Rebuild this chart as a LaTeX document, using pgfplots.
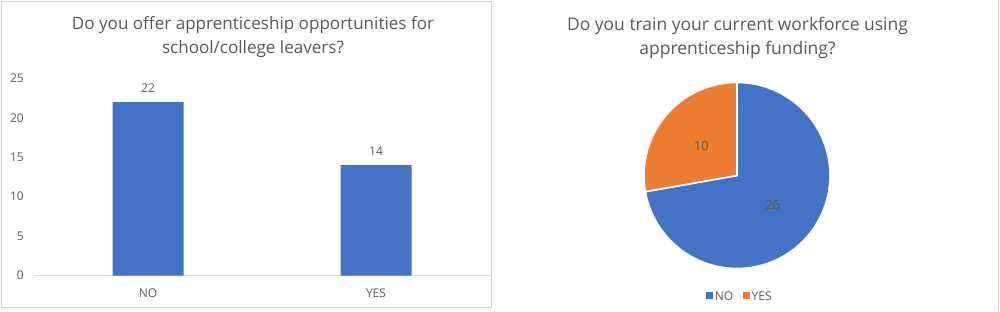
\documentclass[border=0pt]{standalone}
\usepackage{fontspec}
\setmainfont{Open Sans}
\usepackage{pgfplots}
\usepackage{pgfplotstable}
\pgfplotsset{compat=1.18}

\definecolor{barblue}{HTML}{4472C4}
\definecolor{pieorange}{HTML}{ED7D31}
\definecolor{txtgray}{HTML}{595959}
\definecolor{linegray}{HTML}{D9D9D9}
\definecolor{framegray}{HTML}{D0D0D0}

% survey answers
\pgfplotstableread{
x label value
0 NO  22
1 YES 14
}\offerdata
\pgfplotstableread{
label value
NO  26
YES 10
}\fundingdata

\begin{document}
\begin{tikzpicture}
\path (0pt,0pt) rectangle (750pt,232.5pt);
\draw[framegray, line width=0.75pt] (0.75pt,2.25pt) rectangle (368.25pt,231.75pt);
\draw[framegray, line width=0.75pt] (748.5pt,0pt) -- (748.5pt,232.5pt);

% titles
\node[font=\fontsize{12.8}{18}\selectfont, text=txtgray, align=center] at (189.75pt,204.75pt)
  {Do you offer apprenticeship opportunities for\\school/college leavers?};
\node[font=\fontsize{13.1}{18}\selectfont, text=txtgray, align=center] at (553.1pt,204.75pt)
  {Do you train your current workforce using\\apprenticeship funding?};

% bar chart
\begin{axis}[
  at={(25.5pt,26.25pt)}, anchor=south west,
  scale only axis, width=342pt, height=147.75pt,
  xmin=-0.5, xmax=1.5, ymin=0, ymax=25,
  ytick={0,5,...,25}, xtick={0,1}, xticklabels={NO,YES},
  major tick length=0pt,
  axis line style={draw=none},
  /pgf/number format/assume math mode=true,
  tick label style={font=\fontsize{9}{11}\selectfont, text=txtgray},
  yticklabel style={anchor=east, inner sep=0pt, xshift=-7.5pt},
  xticklabel style={anchor=north, inner sep=0pt, yshift=-9.5pt},
  ybar, bar width=53.25pt,
  nodes near coords,
  nodes near coords style={font=\fontsize{9}{11}\selectfont, text=txtgray,
    inner sep=0pt, anchor=south, yshift=7pt},
  clip=false,
]
\draw[linegray, line width=0.75pt] (axis cs:-0.5,0) -- (axis cs:1.5,0);
\addplot[fill=barblue, draw=none] table[x=x, y=value] {\offerdata};
\end{axis}

% pie chart
\pgfplotstablegetelem{0}{value}\of\fundingdata
\let\vNo\pgfplotsretval
\pgfplotstablegetelem{1}{value}\of\fundingdata
\let\vYes\pgfplotsretval
\pgfmathsetmacro\aNo{360*\vNo/(\vNo+\vYes)}
\pgfmathsetmacro\aYes{360*\vYes/(\vNo+\vYes)}
\begin{axis}[
  at={(552.75pt,101.25pt)}, anchor=center,
  x=0.75pt, y=0.75pt,
  xmin=-100, xmax=100, ymin=-100, ymax=100,
  hide axis, clip=false,
  legend columns=2,
  legend style={at={(0.515,-0.11)}, anchor=center, draw=none, fill=none,
    font=\fontsize{9}{11}\selectfont, text=txtgray, inner sep=0pt,
    cells={anchor=west},
    /tikz/every even column/.append style={column sep=5pt}},
]
\filldraw[fill=barblue, draw=white, line width=1.2pt]
  (axis cs:0,0) -- (axis cs:0,93) arc[start angle=90, end angle={90-\aNo}, radius=69.75pt] -- cycle;
\filldraw[fill=pieorange, draw=white, line width=1.2pt]
  (axis cs:0,0) -- (axis cs:0,93) arc[start angle=90, end angle={90+\aYes}, radius=69.75pt] -- cycle;
\node[font=\fontsize{9.5}{11}\selectfont, text=txtgray]
  at (axis cs:{46.5*cos(90-\aNo/2)},{46.5*sin(90-\aNo/2)}) {\vNo};
\node[font=\fontsize{9.5}{11}\selectfont, text=txtgray]
  at (axis cs:{46.5*cos(90+\aYes/2)},{46.5*sin(90+\aYes/2)}) {\vYes};
\addlegendimage{legend image code/.code={\fill[barblue] (0pt,-0.5pt) rectangle (4.5pt,4pt);}}
\addlegendentry{NO}
\addlegendimage{legend image code/.code={\fill[pieorange] (0pt,-0.5pt) rectangle (4.5pt,4pt);}}
\addlegendentry{YES}
\end{axis}
\end{tikzpicture}
\end{document}
